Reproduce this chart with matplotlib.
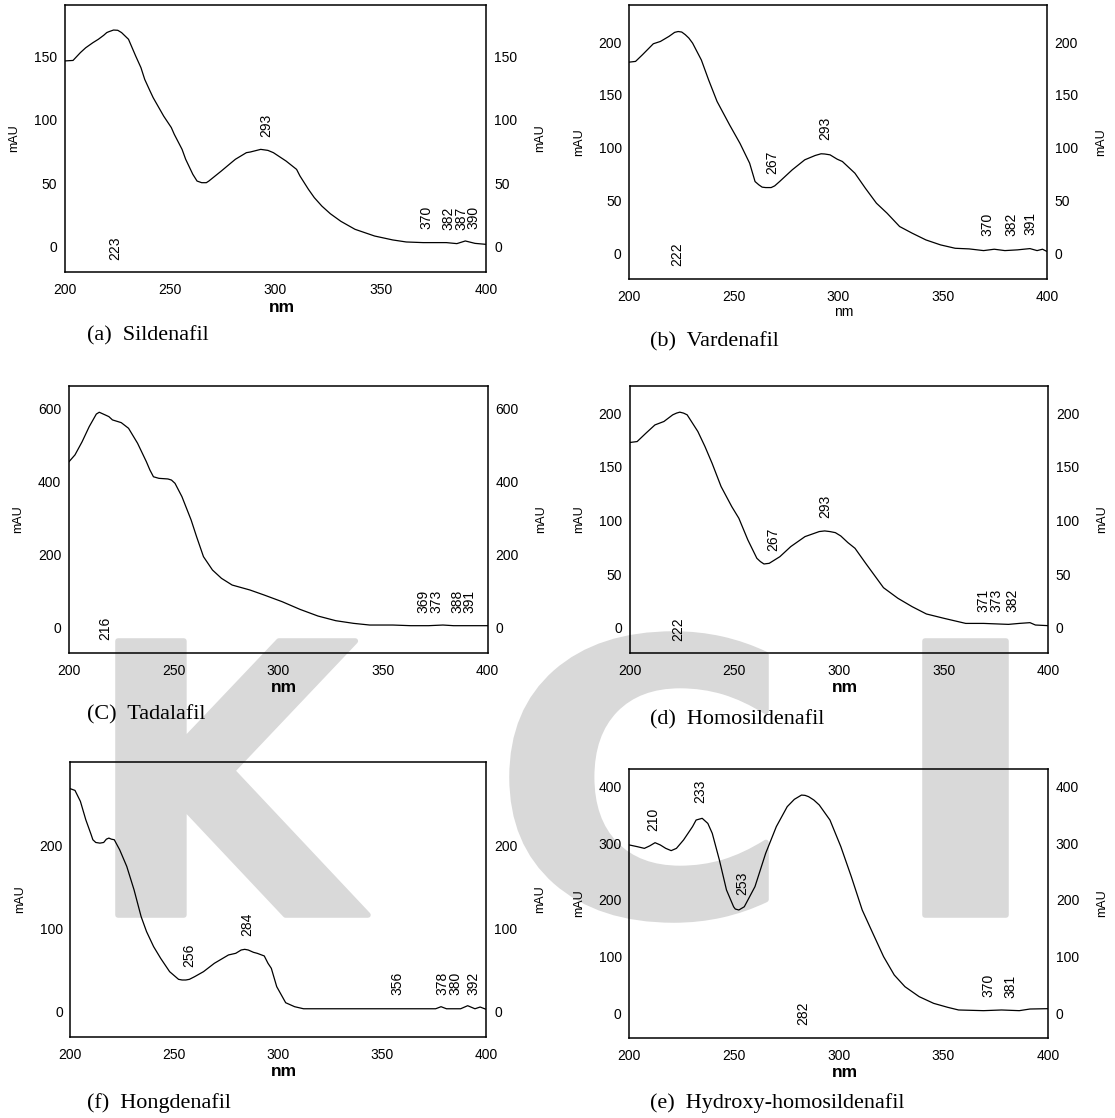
import numpy as np
import matplotlib
matplotlib.use('Agg')
import matplotlib.pyplot as plt
from matplotlib.textpath import TextPath
from matplotlib.patches import PathPatch
from matplotlib.font_manager import FontProperties
from matplotlib.transforms import Affine2D

plt.rcParams['font.family'] = ['Liberation Sans', 'DejaVu Sans']

# spectra as (nm, mAU) pairs
# (a) Sildenafil
sildenafil = [(200, 146.6), (204, 147), (207.5, 153.2), (210, 157), (213.4, 161), (216, 163.7),
              (218.5, 166.8), (220, 169), (221, 169.7), (223.2, 171), (225.2, 170.8), (227, 169),
              (230.3, 163.7), (233.7, 150.5), (236.2, 141.3), (238, 132), (240.5, 122.9),
              (242, 117.6), (247, 103), (250.6, 94), (252, 88.7), (255.7, 76.8), (257.4, 69),
              (260.8, 57.1), (262.8, 51.8), (265, 50.5), (267.2, 50.5), (268.4, 51.8), (274.3, 59.7),
              (279.4, 66.8), (281, 69), (286.2, 74.2), (288, 74.7), (293, 76.8), (296.4, 76),
              (299, 74.2), (305, 67.6), (310, 61), (311.6, 55.8), (315.6, 45.3), (318.4, 38.7),
              (322, 32), (326, 26), (331, 20), (337.7, 13.7), (347, 8.4), (355.6, 5.3), (362, 3.7),
              (370, 3.2), (381, 3.2), (386, 2.4), (390, 4.5), (394.6, 2.6), (400, 1.8)]
sil_peaks = ['223', '293', '370', '382', '387', '390']
sil_peak_x = [224, 295.5, 371.4, 382, 388, 393.7]
sil_peak_y = [-1, 96, 23, 22, 22, 23]

# (b) Vardenafil
vardenafil = [(200, 181), (203, 181.7), (206.3, 188), (211.5, 198.4), (214.9, 200.6), (219, 205.4),
              (221.7, 209.2), (223.4, 210), (225.1, 209.5), (226.8, 207), (228.5, 203.8),
              (230.3, 199), (234.5, 183), (238, 164), (242, 143.8), (248, 121.6), (253, 104),
              (257.6, 85.3), (260.2, 67.9), (262, 64.8), (263.6, 62.6), (265.3, 62.2), (267.9, 62.2),
              (269.6, 63.8), (272, 68), (278, 79), (284, 88.5), (289, 92.6), (291.8, 94.2),
              (293.5, 94), (296.1, 93.2), (299.5, 89.1), (302, 86.9), (308, 75.8), (313, 61.6),
              (318.3, 47.4), (323.4, 37.9), (329.4, 25.3), (335.4, 19), (342, 12.6), (349, 7.9),
              (356, 4.7), (362.7, 4.1), (369.6, 2.5), (374.7, 3.8), (379.8, 2.5), (385.8, 3.2),
              (391.8, 4.4), (395.2, 2.5), (397.8, 3.8), (400, 1.6)]
var_peaks = ['222', '267', '293', '370', '382', '391']
var_peak_x = [222.9, 268.2, 293.8, 371.3, 382.7, 391.8]
var_peak_y = [-1, 86, 118.5, 27, 27, 28.4]

# (C) Tadalafil
tadalafil = [(200, 455), (202.9, 474), (206.3, 510), (209.7, 551.5), (213.1, 586), (214.5, 591),
             (217.4, 583.5), (219.1, 579), (220.8, 570), (225, 562.5), (228.5, 547), (232.8, 506),
             (237, 455.5), (238.7, 432.6), (240.4, 414), (243, 409.7), (247.3, 408), (249, 405),
             (250.7, 396), (254, 359.5), (258.4, 295.4), (261, 249.7), (264.3, 194.8),
             (268.6, 158.2), (272.9, 135.4), (278, 117), (286.5, 103.4), (293.3, 89.6),
             (301.9, 71.3), (310.4, 50.3), (319, 32), (327.5, 19.2), (336, 11.9), (343.7, 7.3),
             (354.8, 7.3), (363.3, 5.5), (371.8, 5.5), (378.7, 7.3), (383.8, 5.5), (400, 5.5)]
tad_peaks = ['216', '369', '373', '388', '391']
tad_peak_x = [217.4, 369.6, 375.6, 385.5, 391.5]
tad_peak_y = [-2, 71, 71, 71, 71]

# (d) Homosildenafil
homosildenafil = [(200, 172.6), (203.6, 173.5), (207.8, 181.3), (212.1, 189), (216.4, 192.2),
                  (220.6, 198.4), (222.4, 200), (224, 200.9), (225.8, 200), (227.5, 198.4),
                  (232.6, 182.9), (236, 168.9), (239.4, 153.3), (243.7, 131.6), (248.8, 112.9),
                  (252.2, 102), (256.5, 81.8), (260.8, 64.7), (262.5, 61.6), (264.2, 59.4),
                  (266.7, 60), (271.8, 66.2), (277, 75.6), (283.8, 84.9), (290.6, 89.6),
                  (293.2, 90.2), (295.7, 89.6), (298.3, 88.6), (300.9, 85.5), (304.3, 79.3),
                  (307.7, 74), (312.8, 60), (321.3, 37.3), (328.2, 27.4), (335, 19.6), (341.8, 12.8),
                  (350.3, 8.7), (360.6, 4), (369.1, 4), (381, 3.1), (386.2, 4), (391.3, 4.7),
                  (393.9, 2.5), (400, 1.9)]
hom_peaks = ['222', '267', '293', '371', '373', '382']
hom_peak_x = [223.2, 268.4, 293.5, 369.1, 375.4, 382.8]
hom_peak_y = [-1, 82.4, 113, 25.8, 25.8, 25.8]

# (f) Hongdenafil
hongdenafil = [(200, 269), (202.2, 267), (204.8, 253.8), (207.4, 231.5), (210, 213.3), (210.8, 207.3),
               (212.2, 204), (214.2, 203.2), (216, 204), (217.3, 208), (218.5, 209.3), (219.7, 208),
               (221.1, 207.3), (223.7, 195.1), (227.1, 175), (230.6, 146.7), (234, 114.3),
               (236.6, 96.2), (240, 78), (243.4, 63.8), (247.7, 47.7), (252, 38.4), (253.7, 37.6),
               (255.5, 37.6), (257.2, 38.4), (259.7, 41.6), (264, 47.7), (269.2, 57.8), (276, 67.9),
               (279.5, 69.9), (282.1, 73.9), (283.8, 74.7), (285.5, 73.9), (288, 71.1),
               (289.8, 69.9), (293.2, 66.7), (295, 57.8), (296.6, 51.7), (299.2, 29.5),
               (303.5, 10.1), (307.8, 5.3), (312.1, 2.8), (320.7, 2.8), (337.9, 2.8), (355, 2.8),
               (375.6, 2.8), (378.2, 5.3), (380.8, 2.8), (387.6, 2.8), (391, 6.5), (394.5, 2.8),
               (397, 4.9), (400, 2)]
hon_peaks = ['256', '284', '356', '378', '380', '392']
hon_peak_x = [257.2, 285, 357.1, 379, 385, 393.6]
hon_peak_y = [68, 105.4, 33.5, 33.5, 33.5, 33.5]

# (e) Hydroxy-homosildenafil
hydroxyhomo = [(200, 297), (203.8, 294), (207.2, 291), (209.7, 295.3), (212.3, 301), (214.8, 297),
               (217.4, 291), (220, 287), (222.5, 291), (225.9, 305.8), (230.2, 329.4), (231.9, 341),
               (234.8, 344), (237.5, 335), (239.6, 317.6), (243, 270.6), (246.4, 217.6),
               (249.8, 188), (250.6, 184), (252.3, 182.3), (254.9, 188), (260, 223.5),
               (265.1, 282.2), (270.2, 329.4), (275.4, 364.6), (278.8, 377.5), (282.2, 385),
               (283.9, 384.5), (285.6, 382.2), (288.1, 376.3), (290.7, 367.5), (295.8, 341),
               (301, 294), (306, 241), (311.2, 182.3), (316.3, 141), (321.4, 100), (326.5, 67.6),
               (331.6, 47), (338.4, 29.4), (345.3, 17.6), (352, 10.6), (357.2, 5.9), (369.1, 4.7),
               (377.7, 5.9), (386.2, 4.7), (391.3, 7.6), (400, 8.2)]
hyd_peaks = ['210', '233', '253', '282', '370', '381']
hyd_peak_x = [211.4, 234.1, 254, 283, 371.4, 382]
hyd_peak_y = [342, 391, 229, 0, 48.8, 47]

W, H = 1115, 1118
fig = plt.figure(figsize=(W / 100, H / 100), dpi=100)


def fx(px):
    return px / W


def fy(py):
    return 1 - py / H


# watermark letters drawn behind the panels
wm_color = '#d9d9d9'
wm_boxes = {'K': (118, 368, 641, 915), 'C': (512, 766, 634, 920), 'I': (925, 1006, 641, 915)}
fp = FontProperties(family='DejaVu Sans', weight='bold')
for ch, (l, r, t, b) in wm_boxes.items():
    tp = TextPath((0, 0), ch, size=100, prop=fp)
    ext = tp.get_extents()
    tr = (Affine2D().translate(-ext.x0, -ext.y0)
          .scale((fx(r) - fx(l)) / ext.width, (fy(t) - fy(b)) / ext.height)
          .translate(fx(l), fy(b)))
    patch = PathPatch(tr.transform_path(tp), facecolor=wm_color, edgecolor=wm_color,
                      linewidth=4, joinstyle='round', transform=fig.transFigure, zorder=-5)
    fig.add_artist(patch)

panels = [
    # spectrum, peaks, peak x, peak y, box (l, r, t, b), ylim, yticks, caption, caption pos, bold nm
    (sildenafil, sil_peaks, sil_peak_x, sil_peak_y, (64.6, 486.4, 4.7, 272), (-20, 191),
     [0, 50, 100, 150], '(a)  Sildenafil', (87, 336), True),
    (vardenafil, var_peaks, var_peak_x, var_peak_y, (629.3, 1047.1, 4.7, 279), (-24.4, 235.4),
     [0, 50, 100, 150, 200], '(b)  Vardenafil', (650, 342), False),
    (tadalafil, tad_peaks, tad_peak_x, tad_peak_y, (68.9, 487.5, 386, 652.7), (-68.6, 663),
     [0, 200, 400, 600], '(C)  Tadalafil', (87, 715), True),
    (homosildenafil, hom_peaks, hom_peak_x, hom_peak_y, (629.6, 1048.2, 386.3, 652.7), (-23.3, 225),
     [0, 50, 100, 150, 200], '(d)  Homosildenafil', (650, 720), True),
    (hongdenafil, hon_peaks, hon_peak_x, hon_peak_y, (70.4, 486.4, 762.3, 1036.7), (-31, 301),
     [0, 100, 200], '(f)  Hongdenafil', (87, 1103), True),
    (hydroxyhomo, hyd_peaks, hyd_peak_x, hyd_peak_y, (629.3, 1048.2, 769, 1037.7), (-43, 431),
     [0, 100, 200, 300, 400], '(e)  Hydroxy-homosildenafil', (650, 1103), True),
]

for spec, pk, pkx, pky, (l, r, t, b), ylim, yt, cap, (cx, cy), bold in panels:
    xs, ys = np.array(spec).T
    ax = fig.add_axes([fx(l), fy(b), fx(r) - fx(l), fy(t) - fy(b)])
    ax.set_facecolor('none')
    ax.plot(xs, ys, color='black', lw=0.9, solid_joinstyle='round')
    ax.set_xlim(200, 400)
    ax.set_ylim(*ylim)
    ax.set_xticks([200, 250, 300, 350, 400])
    ax.set_yticks(yt)
    ax.tick_params(axis='both', length=0, labelsize=10)
    ax.tick_params(axis='x', pad=8)
    ax.tick_params(axis='y', pad=5.5, labelright=True)
    for s in ax.spines.values():
        s.set_linewidth(1.1)
    for lab, px_, py_ in zip(pk, pkx, pky):
        ax.text(px_, py_, lab, rotation=90, ha='center', va='center', fontsize=10)
    # axis titles
    fig.text(fx(l - 50.5), fy((t + b) / 2), 'mAU', rotation=90, ha='center', va='center', fontsize=9)
    fig.text(fx(r + 54), fy((t + b) / 2), 'mAU', rotation=90, ha='center', va='center', fontsize=9)
    if bold:
        fig.text(fx((l + r) / 2 + 6), fy(b + 35), 'nm', ha='center', va='center',
                 fontsize=12.5, fontweight='bold')
    else:
        fig.text(fx((l + r) / 2 + 6), fy(b + 33), 'nm', ha='center', va='center', fontsize=10)
    fig.text(fx(cx), fy(cy), cap, ha='left', va='center', fontsize=15.9,
             family=['Liberation Serif', 'DejaVu Serif'])

fig.savefig('out.png', dpi=100)
